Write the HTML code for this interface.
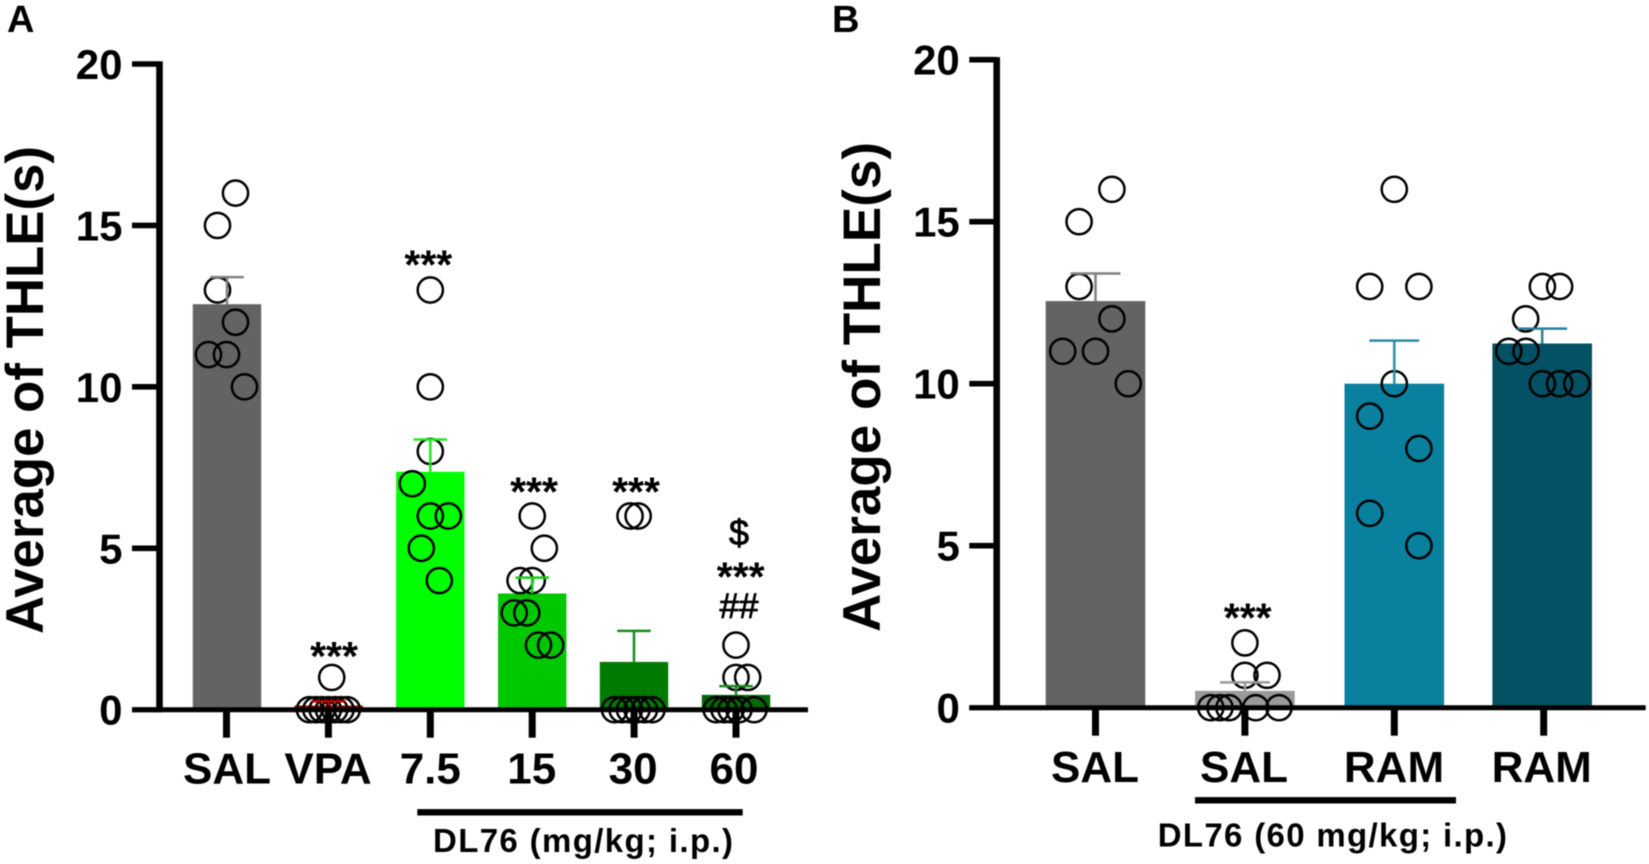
<!DOCTYPE html>
<html lang="en">
<head>
<meta charset="utf-8">
<title>Average of THLE bar charts</title>
<style>
html,body{margin:0;padding:0;background:#fff;}
#figure{display:block;width:1649px;height:864px;font-family:"Liberation Sans",Arial,sans-serif;filter:blur(0.5px);}
text{fill:#000;}
</style>
</head>
<body>
<svg id="figure" xmlns="http://www.w3.org/2000/svg" width="1649" height="864" viewBox="0 0 1649 864"></svg>
<script>
const yTicks = [0, 5, 10, 15, 20];

const panelACategories = ['SAL', 'VPA', '7.5', '15', '30', '60'];
const panelAMeans = [12.56, 0.13, 7.37, 3.6, 1.48, 0.46];
const panelAErrorTops = [13.4, 0.26, 8.37, 4.09, 2.44, 0.73];
const panelAPoints = [
  [16, 15, 13, 12, 11, 11, 10],
  [1, 0, 0, 0, 0, 0, 0, 0],
  [13, 10, 8, 7, 6, 6, 5, 4],
  [6, 5, 4, 4, 3, 3, 2, 2],
  [6, 6, 0, 0, 0, 0, 0, 0],
  [2, 1, 1, 0, 0, 0, 0, 0]
];
const panelASwarm = [
  [1, -1, -1, 1, -2, 0, 2],
  [0.37, -2.1, -1.4, -0.7, 0, 0.7, 1.4, 2.1],
  [0, 0, 0, -2, 0, 2, -1, 1],
  [0, 1.35, -1.35, 0, -2, -0.6, 0.7, 2.05],
  [-0.45, 0.45, -2.17, -1.34, -0.51, 0.32, 1.16, 1.99],
  [0, 0, 1.3, -2.2, -1.33, -0.55, 0.33, 2]
];

const panelBCategories = ['SAL', 'SAL', 'RAM', 'RAM'];
const panelBMeans = [12.55, 0.52, 10, 11.24];
const panelBErrorTops = [13.4, 0.78, 11.33, 11.7];
const panelBPoints = [
  [16, 15, 13, 12, 11, 11, 10],
  [2, 1, 1, 0, 0, 0, 0, 0],
  [16, 13, 13, 10, 9, 8, 6, 5],
  [13, 13, 12, 11, 11, 10, 10, 10]
];
const panelBSwarm = [
  [1, -1, -1, 1, -2, 0, 2],
  [0, 0, 1.35, -2.08, -1.52, -0.97, 0.66, 2.08],
  [0, -1.5, 1.5, 0, -1.5, 1.5, -1.5, 1.5],
  [-0.08, 0.97, -1.1, -2.13, -1.08, -0.08, 0.97, 2.02]
];

const svg = document.getElementById('figure');
const NS = 'http://www.w3.org/2000/svg';

function make(tag, attrs, text) {
  const el = document.createElementNS(NS, tag);
  for (const k in attrs) el.setAttribute(k, attrs[k]);
  if (text !== undefined) el.textContent = text;
  svg.appendChild(el);
  return el;
}

function drawPanel(cfg) {
  const y = v => cfg.y0 - v * (cfg.y0 - cfg.y20) / 20;
  const x = i => cfg.x0 + i * cfg.step;

  cfg.means.forEach((m, i) => {
    const bar = make('rect', {x: x(i) + cfg.barShift[i] - cfg.barW / 2, y: y(m), width: cfg.barW, height: Math.max(0, cfg.y0 - y(m)), fill: cfg.barColors[i]});
    
    
  });

  cfg.points.forEach((list, i) => {
    list.forEach((v, j) => {
      const dot = make('circle', {cx: x(i) + cfg.swarm[i][j] * cfg.swarmUnit, cy: y(v), r: 12.6, fill: 'none', stroke: '#000', 'stroke-width': 2.5});
      
      
    });
  });

  cfg.errorTops.forEach((t, i) => {
    const cx = x(i) + cfg.barShift[i];
    const stem = make('line', {x1: cx, x2: cx, y1: y(cfg.means[i]), y2: y(t), stroke: cfg.errColors[i], 'stroke-width': 2.5});
    
    
    const cap = make('line', {x1: cx - cfg.capW / 2, x2: cx + cfg.capW / 2, y1: y(t), y2: y(t), stroke: cfg.errColors[i], 'stroke-width': 2.5});
    
    
  });

  const yAxis = make('line', {x1: cfg.axisX, x2: cfg.axisX, y1: y(20) - 2.6, y2: cfg.y0 + 2.6, stroke: '#000', 'stroke-width': 6.6});
  
  
  const xAxis = make('line', {x1: cfg.tickLeft, x2: cfg.axisEnd, y1: cfg.y0, y2: cfg.y0, stroke: '#000', 'stroke-width': 5});
  
  

  yTicks.forEach(t => {
    const tick = make('line', {x1: cfg.tickLeft, x2: cfg.axisX, y1: y(t), y2: y(t), stroke: '#000', 'stroke-width': t === 0 ? 5 : 5.6});
    
    
    const label = make('text', {x: cfg.tickLeft - 9.5, y: y(t) + 15, 'text-anchor': 'end', 'font-size': 42, 'font-weight': 'bold'}, String(t));
    
    
  });

  cfg.categories.forEach((c, i) => {
    const tick = make('line', {x1: x(i), x2: x(i), y1: cfg.y0, y2: cfg.y0 + 28, stroke: '#000', 'stroke-width': 7});
    
    
    const label = make('text', {x: x(i) + cfg.labelShift[i], y: cfg.labelY, 'text-anchor': 'middle', 'font-size': 44, 'font-weight': 'bold'}, c);
    
    
  });

  cfg.notes.forEach(n => {
    const top = Math.max.apply(null, cfg.points[n.cat]);
    const note = make('text', {x: x(n.cat) + n.dx, y: y(top) - n.gap, 'text-anchor': 'middle', 'font-size': n.size, 'font-weight': n.weight, stroke: '#000', 'stroke-width': n.heavy}, n.text);
    
    
  });

  const title = make('text', {transform: 'translate(' + cfg.titleX + ',' + cfg.titleBottom + ') rotate(-90)', 'font-size': 53, 'font-weight': 'bold', textLength: cfg.titleLen, lengthAdjust: 'spacingAndGlyphs'}, 'Average of THLE(s)');
  
  

  const letter = make('text', {x: cfg.letterX, y: 32, 'font-size': 38, 'font-weight': 'bold'}, cfg.letter);
  
  

  const bracket = make('rect', {x: cfg.bracket[0], y: cfg.bracket[2] - 3.2, width: cfg.bracket[1] - cfg.bracket[0], height: 6.4, fill: '#000'});
  
  

  const group = make('text', {x: cfg.groupX, y: cfg.groupY, 'font-size': 33, 'font-weight': 'bold', textLength: cfg.groupLen, lengthAdjust: 'spacing'}, cfg.groupText);
  
  
}

drawPanel({
  id: 'a', letter: 'A', letterX: 7,
  categories: panelACategories, means: panelAMeans, errorTops: panelAErrorTops, points: panelAPoints, swarm: panelASwarm,
  y0: 709.7, y20: 64, x0: 226.5, step: 101.9, barW: 68.4, capW: 33.5, swarmUnit: 9,
  barShift: [0.5, 0.3, 0, 0, -0.1, 0],
  labelShift: [0.5, -0.4, 0, -0.5, -1, -2],
  barColors: ['#636363', '#a80000', '#00ff00', '#00c800', '#007a00', '#006a00'],
  errColors: ['#808080', '#c00000', '#1fe81f', '#14d014', '#1a8a1a', '#1a8a1a'],
  axisX: 159.5, tickLeft: 132, axisEnd: 808, labelY: 783.5,
  titleX: 43, titleBottom: 634, titleLen: 488,
  bracket: [417.3, 742.7, 812.3], groupX: 433, groupY: 852, groupLen: 300, groupText: 'DL76 (mg/kg; i.p.)',
  notes: [
    {cat: 1, dx: 5.6, gap: 7.5, text: '***', size: 41, weight: 'bold', heavy: 0},
    {cat: 2, dx: -2, gap: 11.5, text: '***', size: 41, weight: 'bold', heavy: 0},
    {cat: 3, dx: 1.8, gap: 10.5, text: '***', size: 41, weight: 'bold', heavy: 0},
    {cat: 4, dx: 1.9, gap: 10.5, text: '***', size: 41, weight: 'bold', heavy: 0},
    {cat: 5, dx: 4.7, gap: 54.5, text: '***', size: 41, weight: 'bold', heavy: 0},
    {cat: 5, dx: 3, gap: 27, text: '##', size: 35, weight: 'normal', heavy: 0.8},
    {cat: 5, dx: 3, gap: 100, text: '$', size: 36, weight: 'normal', heavy: 0.8}
  ]
});

drawPanel({
  id: 'b', letter: 'B', letterX: 832,
  categories: panelBCategories, means: panelBMeans, errorTops: panelBErrorTops, points: panelBPoints, swarm: panelBSwarm,
  y0: 707.7, y20: 59.7, x0: 1095.5, step: 149.4, barW: 99.6, capW: 49.8, swarmUnit: 16.4,
  barShift: [0, 0, 0, -1.5],
  labelShift: [-0.5, -0.9, -0.3, -2],
  barColors: ['#636363', '#999999', '#08809e', '#045064'],
  errColors: ['#808080', '#999999', '#2d8ba6', '#2d7f96'],
  axisX: 996.7, tickLeft: 969.3, axisEnd: 1645.7, labelY: 782,
  titleX: 880, titleBottom: 632, titleLen: 490,
  bracket: [1195, 1456, 800.3], groupX: 1157.7, groupY: 846.3, groupLen: 349.3, groupText: 'DL76 (60 mg/kg; i.p.)',
  notes: [
    {cat: 1, dx: 2.8, gap: 11.5, text: '***', size: 41, weight: 'bold', heavy: 0}
  ]
});
</script>
</body>
</html>
